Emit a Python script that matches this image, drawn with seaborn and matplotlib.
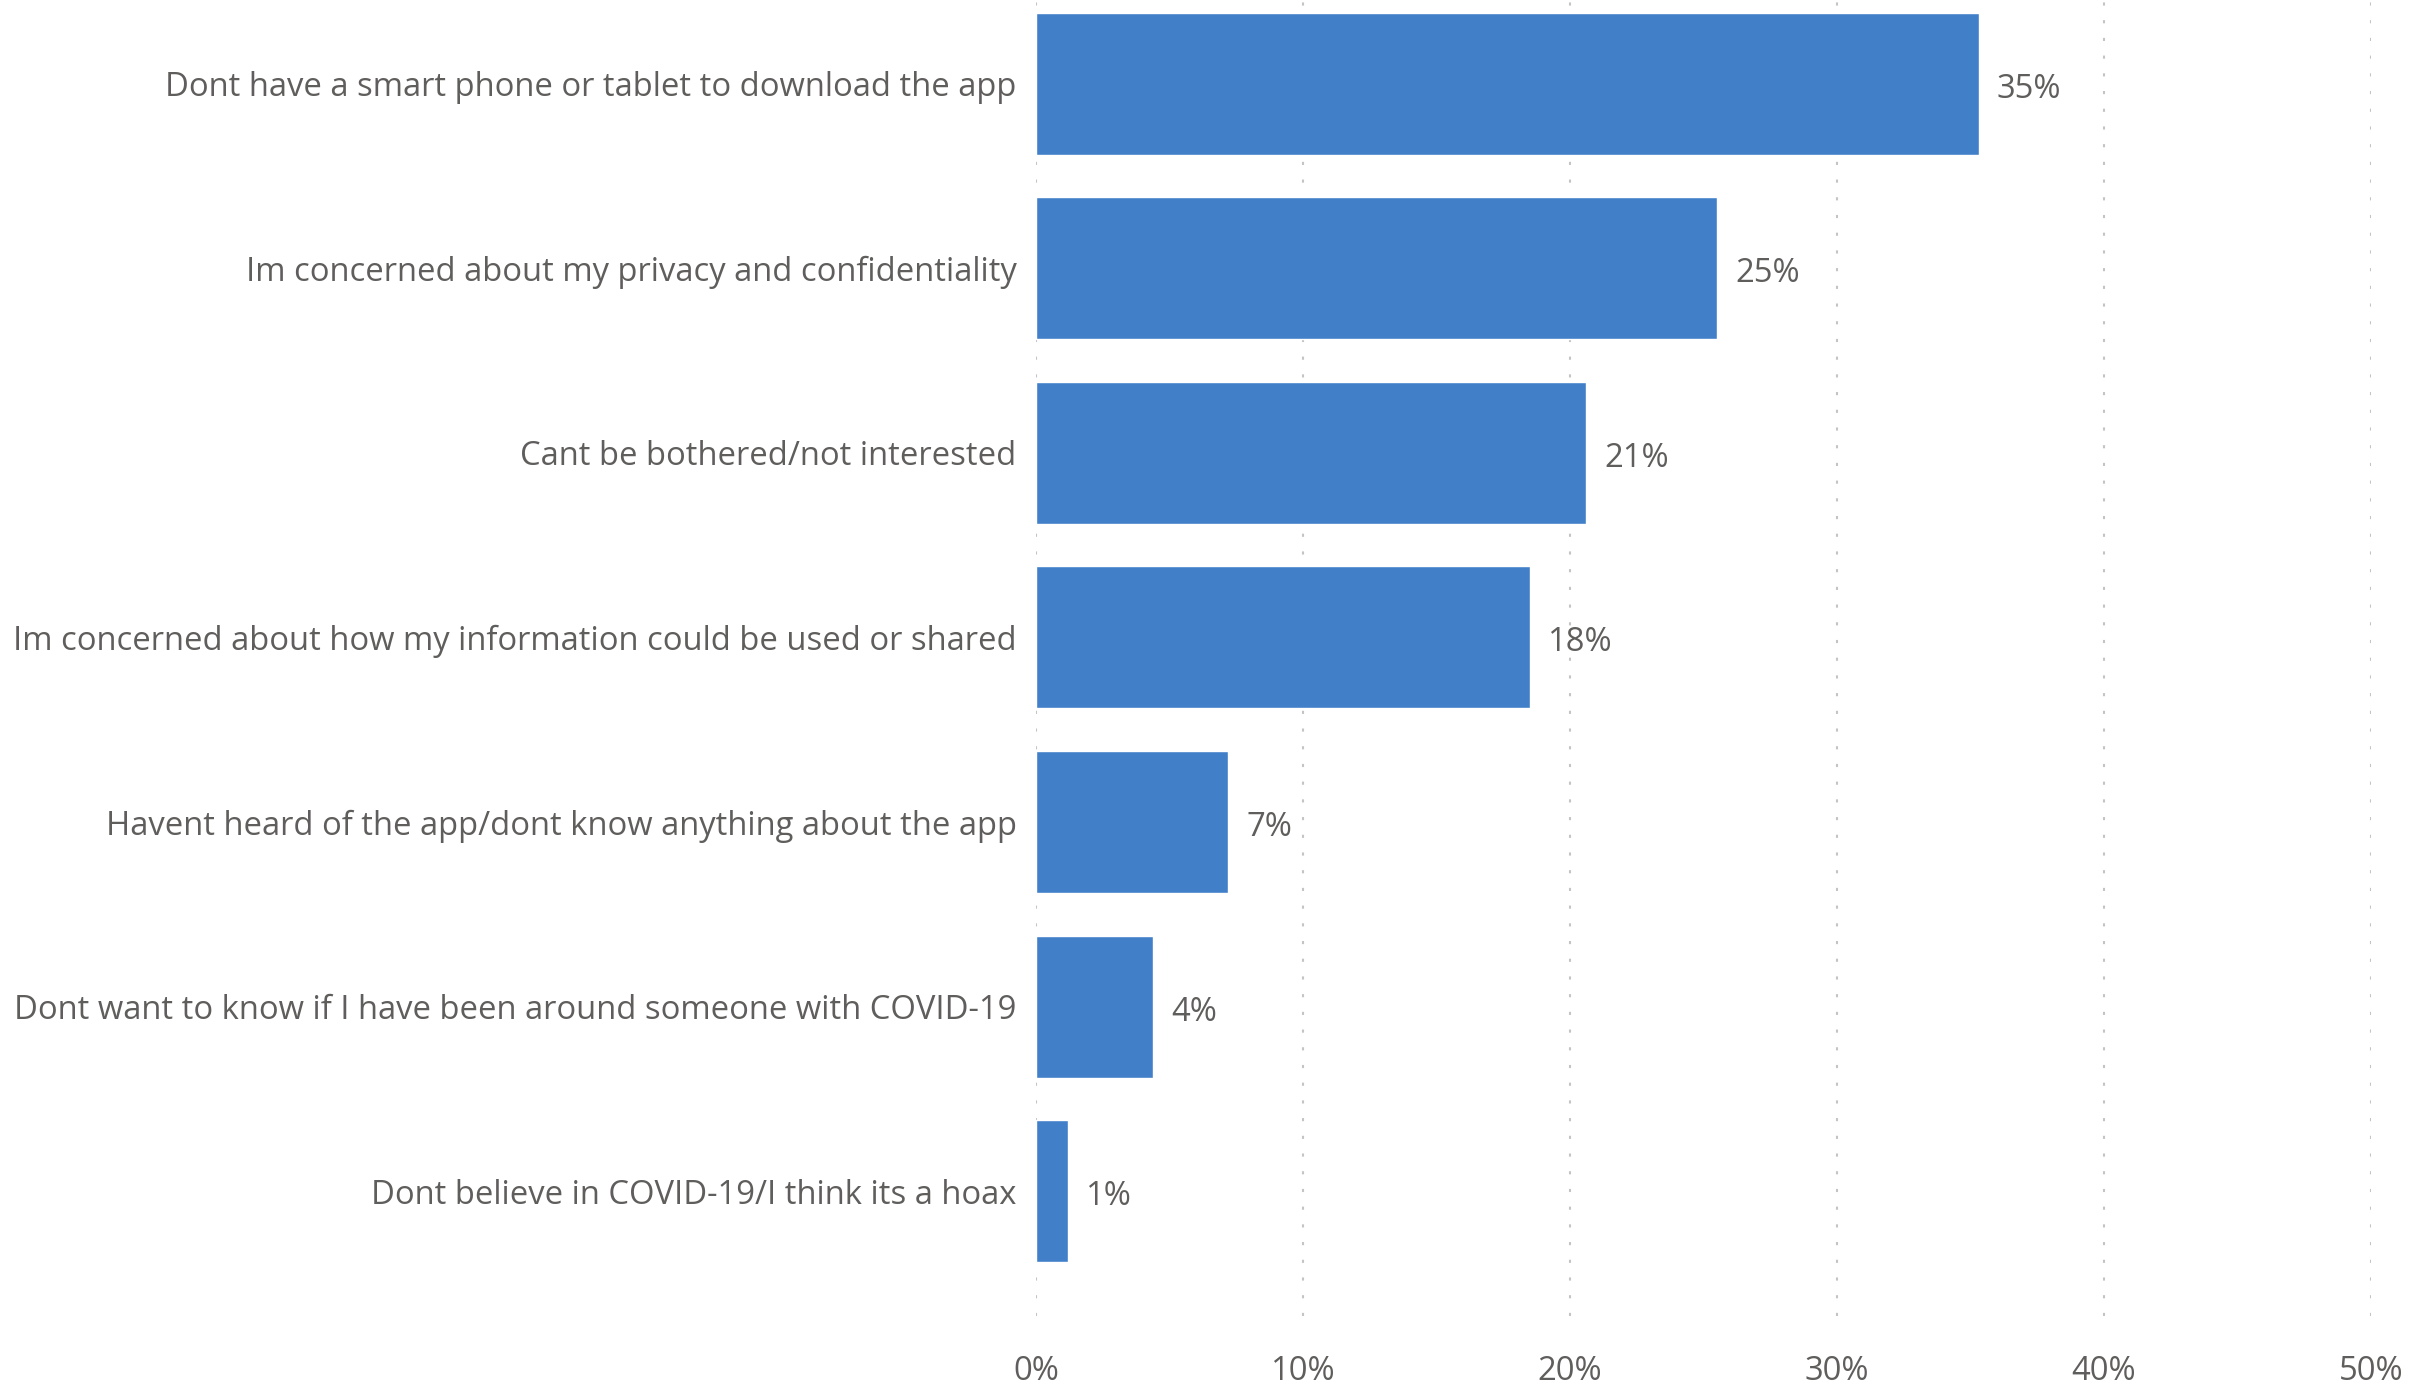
import matplotlib
matplotlib.use("Agg")
import matplotlib.pyplot as plt
import seaborn as sns
import pandas as pd
from matplotlib.ticker import FuncFormatter

categories = [
    "Dont have a smart phone or tablet to download the app",
    "Im concerned about my privacy and confidentiality",
    "Cant be bothered/not interested",
    "Im concerned about how my information could be used or shared",
    "Havent heard of the app/dont know anything about the app",
    "Dont want to know if I have been around someone with COVID-19",
    "Dont believe in COVID-19/I think its a hoax",
]
values = [35.3, 25.5, 20.6, 18.5, 7.2, 4.4, 1.2]
value_labels = ["35%", "25%", "21%", "18%", "7%", "4%", "1%"]
x_ticks = [0, 10, 20, 30, 40, 50]

sns.set_theme(style="white")
plt.rcParams["font.family"] = ["Open Sans", "DejaVu Sans"]

TEXT = "#605E5C"
BAR = "#417FC9"
FS = 23.6

df = pd.DataFrame({"reason": categories, "pct": values})

fig = plt.figure(figsize=(24.28, 13.90), dpi=100)
ax = fig.add_axes([1036 / 2428, (1390 - 1316) / 1390, (2371 - 1036) / 2428, 1316 / 1390])

sns.barplot(data=df, y="reason", x="pct", orient="h", color=BAR, width=0.77,
            saturation=1, ax=ax, zorder=3)

ax.set_xlim(0, 50)
ax.set_ylim(6.676, -0.453)
ax.set_xticks(x_ticks)
ax.xaxis.set_major_formatter(FuncFormatter(lambda v, p: f"{v:.0f}%"))
ax.grid(axis="x", color="#C4C4C4", linestyle=(0, (1.5, 7)), linewidth=1.5, zorder=0)
ax.grid(axis="y", visible=False)
for s in ax.spines.values():
    s.set_visible(False)
ax.set_xlabel("")
ax.set_ylabel("")
ax.tick_params(axis="x", length=0, pad=28, labelsize=FS, labelcolor=TEXT)
ax.tick_params(axis="y", length=0, pad=14, labelsize=FS, labelcolor=TEXT)

anns = ax.bar_label(ax.containers[0], labels=value_labels, padding=13, fontsize=FS, color=TEXT)
for a in anns:
    a.xyann = (13, -4)

fig.savefig("out.png", dpi=100)
